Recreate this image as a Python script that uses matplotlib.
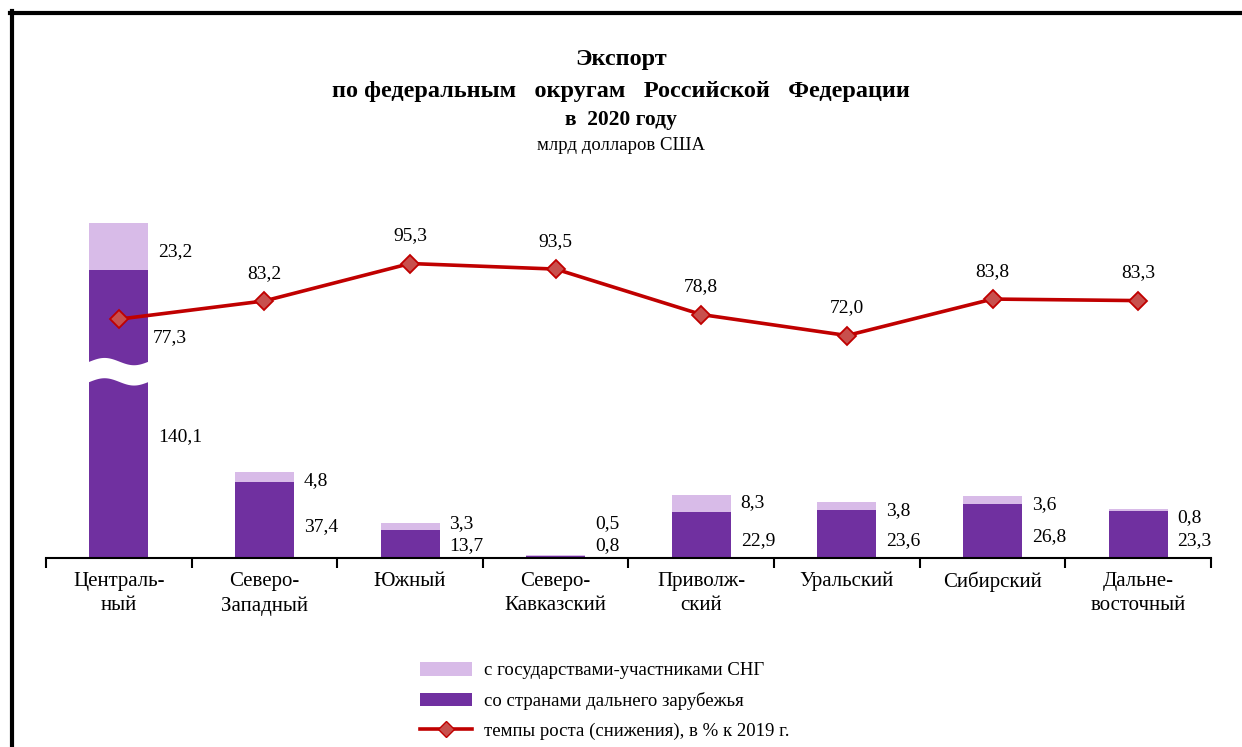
import numpy as np
import matplotlib
matplotlib.use("Agg")
import matplotlib.pyplot as plt
from matplotlib.lines import Line2D
from matplotlib.patches import Patch

plt.rcParams['font.family'] = ['Liberation Serif', 'DejaVu Serif']

## data
districts = ["Централь-\nный", "Северо-\nЗападный", "Южный", "Северо-\nКавказский",
             "Приволж-\nский", "Уральский", "Сибирский", "Дальне-\nвосточный"]
far_abroad = [140.1 + 77.3, 37.4, 13.7, 0.8, 22.9, 23.6, 26.8, 23.3]
far_labels = ["140,1", "37,4", "13,7", "0,8", "22,9", "23,6", "26,8", "23,3"]
cis = [23.2, 4.8, 3.3, 0.5, 8.3, 3.8, 3.6, 0.8]
growth = [77.3, 83.2, 95.3, 93.5, 78.8, 72.0, 83.8, 83.3]

LIGHT = "#D8BBE8"
DARK = "#7030A0"
RED = "#C00000"

CUT = 75.5          # part of the first bar hidden by the break
BREAK = (87, 97)    # where the break is drawn (in bar units)
FS = 14


def fmt(v):
    return ("%.1f" % v).replace(".", ",")


fig = plt.figure(figsize=(12.42, 7.47), dpi=100)
ax = fig.add_axes([46 / 1242, 1 - 558 / 747, (1211 - 46) / 1242, 358 / 747])
ax2 = ax.twinx()

x = np.arange(len(districts))
shown_far = [v - CUT if i == 0 else v for i, v in enumerate(far_abroad)]
w = 0.405

ax.bar(x, shown_far, w, color=DARK, zorder=2)
ax.bar(x, cis, w, bottom=shown_far, color=LIGHT, zorder=2)

# break on the first bar
xs = np.linspace(-w / 2 - 0.02, w / 2 + 0.02, 100)
wave = 1.8 * np.sin((xs + w / 2) / w * 2 * np.pi)
ax.fill_between(xs, BREAK[0] + wave, BREAK[1] + wave, color="white", zorder=3,
                linewidth=0)

# bar labels
for i in range(len(x)):
    mid = shown_far[i] / 2 - 3 if i else 60
    y_dark = max(mid, 6)
    y_light = max(shown_far[i] + cis[i] - 4, y_dark + 11)
    if i == 0:
        y_light = shown_far[i] + cis[i] / 2 - 2.5
    ax.text(x[i] + 0.27, y_light, fmt(cis[i]), ha="left", va="center",
            fontsize=FS, zorder=5)
    ax.text(x[i] + 0.27, y_dark, far_labels[i], ha="left", va="center",
            fontsize=FS, zorder=5)

ax.set_xlim(-0.5, len(x) - 0.5)
ax.set_ylim(0, 358 / 2.03)
ax2.set_ylim(0, 358 / 3.09)

ax2.plot(x, growth, color=RED, lw=2.6, marker="D", markersize=9,
         markerfacecolor="#C8504D", markeredgecolor=RED, markeredgewidth=1.3,
         zorder=4)
for i, v in enumerate(growth):
    if i == 0:
        ax2.annotate(fmt(v), (x[i], v), xytext=(37, -13), textcoords="offset points",
                     ha="center", va="center", fontsize=FS)
    else:
        ax2.annotate(fmt(v), (x[i], v), xytext=(0, 20), textcoords="offset points",
                     ha="center", va="center", fontsize=FS)

for a in (ax, ax2):
    for s in ("top", "right", "left"):
        a.spines[s].set_visible(False)
    a.patch.set_visible(False)
    a.set_yticks([])
ax.spines["bottom"].set_linewidth(1.5)
ax2.spines["bottom"].set_visible(False)

ax.set_xticks(np.arange(len(x) + 1) - 0.5, minor=False)
ax.set_xticklabels([])
ax.tick_params(axis="x", which="major", direction="out", length=7, width=1.5)
ax.set_xticks(x, minor=True)
ax.set_xticklabels(districts, minor=True, fontsize=15, linespacing=1.4)
ax.tick_params(axis="x", which="minor", length=0, pad=10)

# title
fig.text(0.5, 1 - 60 / 747, "Экспорт", ha="center", va="center",
         fontsize=17.5, fontweight="bold")
fig.text(0.5, 1 - 92 / 747, "по федеральным   округам   Российской   Федерации",
         ha="center", va="center", fontsize=17.5, fontweight="bold")
fig.text(0.5, 1 - 120 / 747, "в  2020 году", ha="center", va="center",
         fontsize=15.5, fontweight="bold")
fig.text(0.5, 1 - 145 / 747, "млрд долларов США", ha="center", va="center",
         fontsize=13.5)

# legend
handles = [Patch(facecolor=LIGHT, edgecolor="none"),
           Patch(facecolor=DARK, edgecolor="none"),
           Line2D([], [], color=RED, lw=2.6, marker="D", markersize=8,
                  markerfacecolor="#C8504D", markeredgecolor=RED)]
labels = ["с государствами-участниками СНГ", "со странами дальнего зарубежья",
          "темпы роста (снижения), в % к 2019 г."]
fig.legend(handles, labels, loc="upper left", bbox_to_anchor=(403 / 1242, 1 - 645 / 747),
           frameon=False, fontsize=13.5, handlelength=2.8, handleheight=0.75,
           labelspacing=0.68, handletextpad=0.6)

# outer frame
fig.add_artist(Line2D([12 / 1242, 12 / 1242], [0, 1 - 11 / 747], color="black",
                      lw=3, transform=fig.transFigure))
fig.add_artist(Line2D([10 / 1242, 1], [1 - 13 / 747, 1 - 13 / 747], color="black",
                      lw=3, transform=fig.transFigure))

plt.savefig("out.png", dpi=100)
plt.close()
